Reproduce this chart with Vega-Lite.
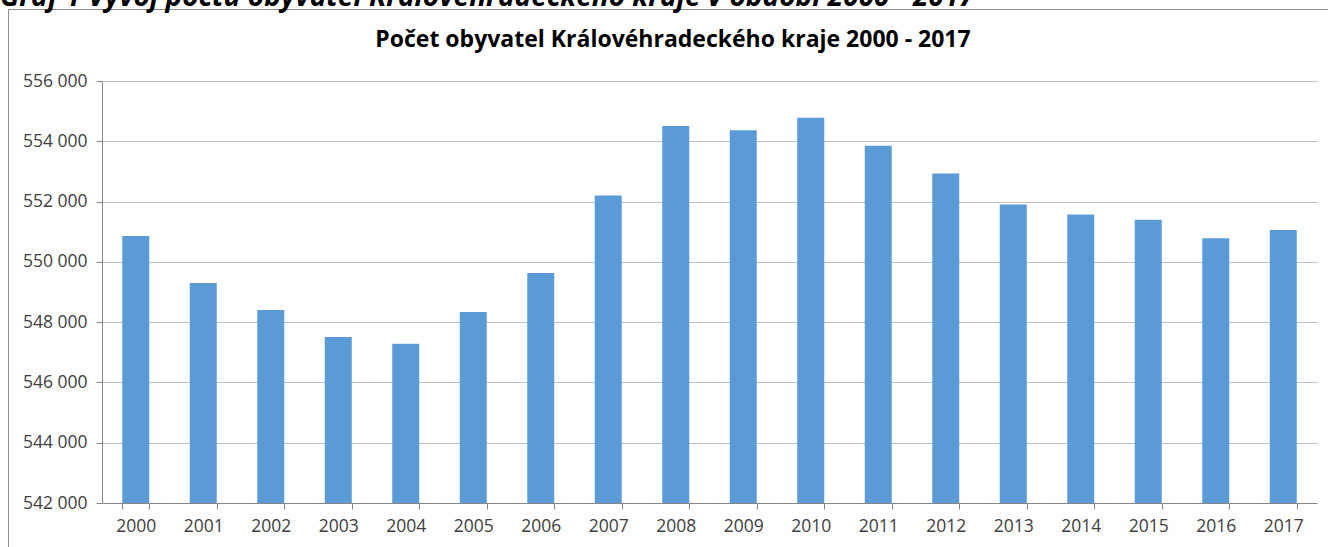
{
  "$schema": "https://vega.github.io/schema/vega-lite/v6.json",
  "autosize": "none",
  "padding": {"left": 102, "top": 81, "right": 11, "bottom": 44},
  "width": 1215,
  "height": 422,
  "background": "white",
  "config": {
    "view": {"stroke": null},
    "font": "Open Sans"
  },
  "title": {
    "text": "Graf 1 Vývoj počtu obyvatel Královéhradeckého kraje v období 2000 - 2017",
    "anchor": "start",
    "frame": "group",
    "dx": -102,
    "dy": 25,
    "offset": 0,
    "baseline": "alphabetic",
    "font": "Open Sans",
    "fontSize": 28,
    "fontWeight": "bold",
    "fontStyle": "italic",
    "color": "#000000"
  },
  "data": {
    "values": [
      {"rok": "2000", "obyvatel": 550860},
      {"rok": "2001", "obyvatel": 549300},
      {"rok": "2002", "obyvatel": 548400},
      {"rok": "2003", "obyvatel": 547510},
      {"rok": "2004", "obyvatel": 547280},
      {"rok": "2005", "obyvatel": 548340},
      {"rok": "2006", "obyvatel": 549630},
      {"rok": "2007", "obyvatel": 552200},
      {"rok": "2008", "obyvatel": 554510},
      {"rok": "2009", "obyvatel": 554370},
      {"rok": "2010", "obyvatel": 554780},
      {"rok": "2011", "obyvatel": 553850},
      {"rok": "2012", "obyvatel": 552930},
      {"rok": "2013", "obyvatel": 551900},
      {"rok": "2014", "obyvatel": 551570},
      {"rok": "2015", "obyvatel": 551400},
      {"rok": "2016", "obyvatel": 550780},
      {"rok": "2017", "obyvatel": 551060}
    ]
  },
  "mark": {"type": "bar", "clip": true},
  "encoding": {
    "color": {
      "datum": "Počet obyvatel",
      "scale": {"range": ["#5b9bd5"]},
      "legend": {
        "orient": "none",
        "legendX": -94,
        "legendY": -72,
        "title": null,
        "strokeColor": "#8c8c8c",
        "padding": 1000,
        "symbolOpacity": 0,
        "symbolStrokeWidth": 0,
        "labelExpr": "''"
      }
    },
    "x": {
      "field": "rok",
      "type": "ordinal",
      "scale": {"paddingInner": 0.6, "paddingOuter": 0.3},
      "axis": {
        "title": null,
        "labelAngle": 0,
        "labelFont": "Open Sans",
        "labelFontSize": 17.5,
        "labelColor": "#404040",
        "labelPadding": 8,
        "tickBand": "extent",
        "ticks": true,
        "tickSize": 6,
        "tickColor": "#868686",
        "domainColor": "#868686",
        "grid": false
      }
    },
    "y": {
      "field": "obyvatel",
      "type": "quantitative",
      "scale": {"domain": [542000, 556000], "zero": false, "nice": false},
      "axis": {
        "title": "Počet obyvatel Královéhradeckého kraje 2000 - 2017",
        "titleAngle": 0,
        "titleX": 570.5,
        "titleY": -35,
        "titleAlign": "center",
        "titleBaseline": "alphabetic",
        "titleFont": "Open Sans",
        "titleFontSize": 23,
        "titleFontWeight": "bold",
        "titleColor": "#000000",
        "values": [542000, 544000, 546000, 548000, 550000, 552000, 554000, 556000],
        "labelExpr": "replace(format(datum.value, ','), ',', ' ')",
        "labelFont": "Open Sans",
        "labelFontSize": 17.5,
        "labelColor": "#404040",
        "labelPadding": 9,
        "tickSize": 6,
        "tickColor": "#868686",
        "domainColor": "#868686",
        "grid": true,
        "gridColor": "#bfbfbf"
      }
    }
  }
}
